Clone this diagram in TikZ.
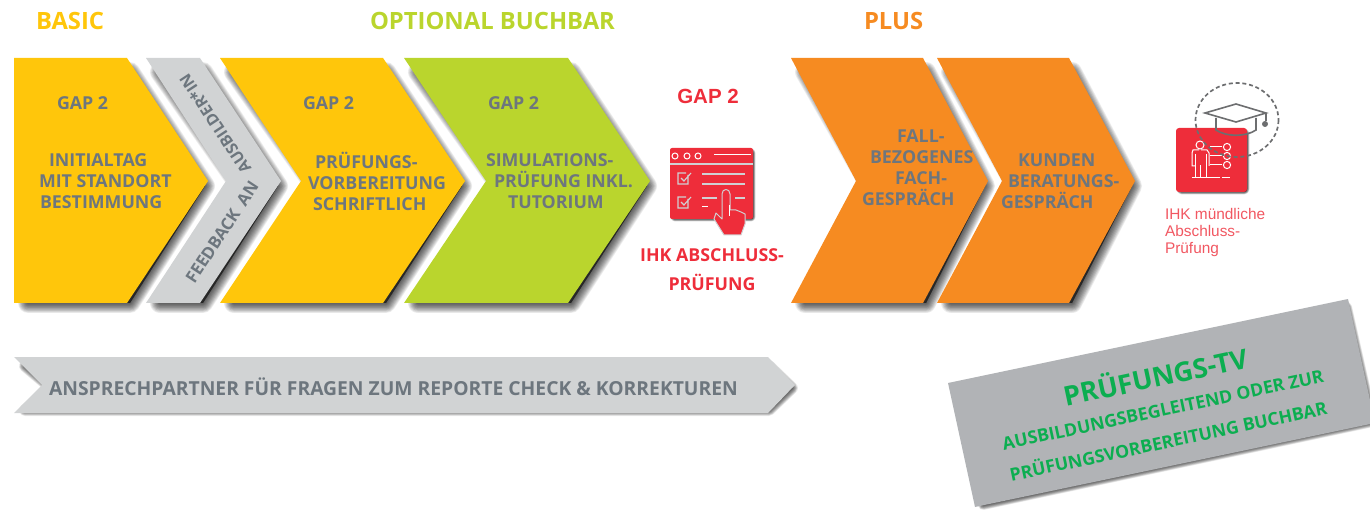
\documentclass[tikz,border=0pt]{standalone}
\usepackage{fontspec}
\setmainfont{Open Sans}
\newfontfamily\arialfont{Liberation Sans}
\usetikzlibrary{shapes,positioning}

\definecolor{cyellow}{HTML}{FFC60B}
\definecolor{cgrey}{HTML}{D1D3D4}
\definecolor{cgreen}{HTML}{BAD52D}
\definecolor{corange}{HTML}{F68B21}
\definecolor{ctext}{HTML}{6D767E}
\definecolor{cred}{HTML}{EE2D3A}
\definecolor{cbox}{HTML}{B1B3B6}
\definecolor{cboxtext}{HTML}{0CAE50}
\definecolor{cdash}{HTML}{6D6E70}

% soft shadow: offset, blur, path
\newcommand{\softshadow}[3]{
  \foreach \k in {1,...,14}
    \path[fill=black,draw=black,opacity=.065,line width={(#2*\k/14)*1pt},line join=round,shift={(#1,#1)}] #3;
}
% chevron: colour, left, notch, right, tip
\newcommand{\chevron}[5]{
  \softshadow{5}{20}{(#2+9,67) -- (#4-2,67) -- (#5-8,181) -- (#4-2,298) -- (#2+9,298) -- (#3+9,181) -- cycle}
  \fill[#1] (#2,58) -- (#4,58) -- (#5,181) -- (#4,303) -- (#2,303) -- (#3,181) -- cycle;
}

\begin{document}
\begin{tikzpicture}[x=1pt,y=-1pt,font=\bfseries,every node/.style={inner sep=0pt,outer sep=0pt}]
  \tikzstyle{title}=[anchor=west,font=\bfseries\fontsize{23.8}{28}\selectfont]
  \tikzstyle{gap}=[anchor=west,text=ctext,font=\bfseries\fontsize{17.8}{21}\selectfont]
  \tikzstyle{block}=[anchor=west,align=left,text=ctext,font=\bfseries\fontsize{17.8}{21}\selectfont]
  \tikzstyle{boxtext}=[rotate=12,text=cboxtext,font=\bfseries\fontsize{17.7}{22}\selectfont]
  \tikzstyle{iconline}=[draw=white,line width=1pt]
  \tikzstyle{iconsoft}=[draw=cbox!60!white,line width=1.1pt]

  \clip (0,0) rectangle (1370,510);

  \node[title,text=cyellow] (basic) at (36,21) {BASIC};
  \node[title,text=cgreen] (optional) at (370,21) {OPTIONAL BUCHBAR};
  \node[title,text=corange] (plus) at (864,21) {PLUS};

  \chevron{cyellow}{14}{14}{127}{208}
  \chevron{cgrey}{146}{226}{200}{281}
  \chevron{cyellow}{220}{301}{383}{465}
  \chevron{cgreen}{404}{486}{568}{650}
  \chevron{corange}{791}{856}{923}{988}
  \chevron{corange}{937}{1002}{1069}{1135}

  \node[gap] (gapa) at (57,103) {GAP 2};
  \node[gap] (gapb) at (303,103) {GAP 2};
  \node[gap] (gapc) at (488,103) {GAP 2};

  \node[block] (initial) at (39,181) {\hspace*{10pt}INITIALTAG\\MIT STANDORT\\\hspace*{1pt}BESTIMMUNG};
  \node[block] (pruef) at (308,181) {\hspace*{7pt}PRÜFUNGS-\\VORBEREITUNG\\\hspace*{5pt}SCHRIFTLICH};
  \node[block] (simu) at (486,181) {SIMULATIONS-\\\hspace*{8pt}PRÜFUNG INKL.\\\hspace*{22pt}TUTORIUM};
  \node[block] (fall) at (862,168) {\hspace*{35pt}FALL-\\\hspace*{8pt}BEZOGENES\\\hspace*{33pt}FACH-\\GESPRÄCH};
  \node[block] (kunden) at (1001,181) {\hspace*{17pt}KUNDEN\\\hspace*{7pt}BERATUNGS-\\GESPRÄCH};

  \node[text=ctext,rotate=56.6,font=\bfseries\fontsize{16.8}{20}\selectfont] (feedback) at (222,232) {FEEDBACK\hspace{8pt}AN};
  \node[text=ctext,rotate=123.4,font=\bfseries\fontsize{16}{20}\selectfont] (ausbilder) at (215,124) {AUSBILDER*IN};

  % bar
  \softshadow{3}{12}{(22,363) -- (766,363) -- (789,385) -- (766,407) -- (22,407) -- (48,385) -- cycle}
  \fill[cgrey] (14,357) -- (768,357) -- (795,385) -- (768,413) -- (14,413) -- (42,385) -- cycle;
  \node[gap,font=\bfseries\fontsize{19.3}{23}\selectfont] (bar) at (49,387) {ANSPRECHPARTNER FÜR FRAGEN ZUM REPORTE CHECK \& KORREKTUREN};

  % exam icon
  \node[text=cred,font=\arialfont\bfseries\fontsize{20.5}{24}\selectfont] (gapred) at (708,96) {GAP 2};
  \softshadow{1}{5}{[rounded corners=2pt] (672,150) rectangle (752,218)}
  \fill[cred,rounded corners=2pt] (670,148) rectangle (753,219);
  \foreach \x in {675,687,698} \draw[iconline] (\x,156) circle (3);
  \draw[iconline] (714,155) -- (751,155);
  \draw[iconsoft] (670,164) -- (753,164);
  \foreach \y in {173,197} \draw[iconsoft] (688,\y+2) -- (688,\y+11) -- (678,\y+11) -- (678,\y) -- (686,\y) (681,\y+5) -- (684,\y+8) -- (691,\y);
  \draw[iconsoft] (702,174) -- (745,174) (702,184) -- (745,184) (702,198) -- (717,198) (735,198) -- (745,198);
  \draw[iconline] (702,207) -- (708,207);
  \draw[fill=cred,draw=cbox!60!white,line width=1pt,line join=round] (722,194) .. controls (722,188) and (730,188) .. (730,194) -- (730,210) -- (736,210) -- (741,212) -- (745,214) -- (745,224) -- (741,235) -- (724,235) -- (714,219) -- (716,213) -- (722,219) -- cycle;
  \draw[draw=white,line width=.8pt] (729,205) -- (729,216);
  \node[text=cred,align=center,font=\bfseries\fontsize{17.8}{29}\selectfont] (exam) at (712,270) {IHK ABSCHLUSS-\\PRÜFUNG};

  % oral exam icon
  \softshadow{1}{5}{[rounded corners=3pt] (1178,130) rectangle (1246,191)}
  \fill[cred,rounded corners=3pt] (1176,128) rectangle (1247,192);
  \draw[iconline] (1200,145) circle (4);
  \draw[iconline] (1201,150) -- (1207,150) -- (1209,153) -- (1209,166) (1199,150) -- (1193,150) -- (1192,153) -- (1192,166) -- (1195,166);
  \draw[iconline] (1195,154) -- (1195,178) (1206,154) -- (1206,178) (1200.5,165) -- (1200.5,178);
  \draw[iconline] (1192,178) -- (1220,178) (1222,178) -- (1230,178);
  \foreach \y in {147,156,165} {
    \draw[iconline] (1210,\y) -- (1222,\y);
    \draw[iconline] (1227,\y) circle (3.6);
  }
  \draw[cdash,line width=1.6pt] (1205,113) -- (1236,104) -- (1266,113) -- (1236,122) -- cycle;
  \draw[cdash,line width=1.6pt] (1216,118) -- (1216,130) .. controls (1226,137) and (1246,137) .. (1256,130) -- (1256,118);
  \draw[cdash,line width=1.2pt] (1266,113) -- (1266,121);
  \fill[cdash] (1265,124) circle (3);
  \draw[cdash,line width=1.7pt,dash pattern=on 4pt off 2.8pt] (1237,120) ellipse (41.5 and 37);
  \node[anchor=north west,align=left,text=cred!80!white,font=\arialfont\mdseries\fontsize{15.4}{17}\selectfont] (oral) at (1165,208) {IHK mündliche\\Abschluss-\\Prüfung};

  % tv box
  \softshadow{3}{10}{(955,386) -- (1344,304) -- (1370,419) -- (980,502) -- cycle}
  \fill[cbox] (948,383) -- (1348,299) -- (1375,423) -- (975,507) -- cycle;
  \node[boxtext,font=\bfseries\fontsize{27}{31}\selectfont] (tv) at (1155,375) {PRÜFUNGS-TV};
  \node[boxtext] (tva) at (1163,410) {AUSBILDUNGSBEGLEITEND ODER ZUR};
  \node[boxtext] (tvb) at (1168,440) {PRÜFUNGSVORBEREITUNG BUCHBAR};
\end{tikzpicture}
\end{document}
